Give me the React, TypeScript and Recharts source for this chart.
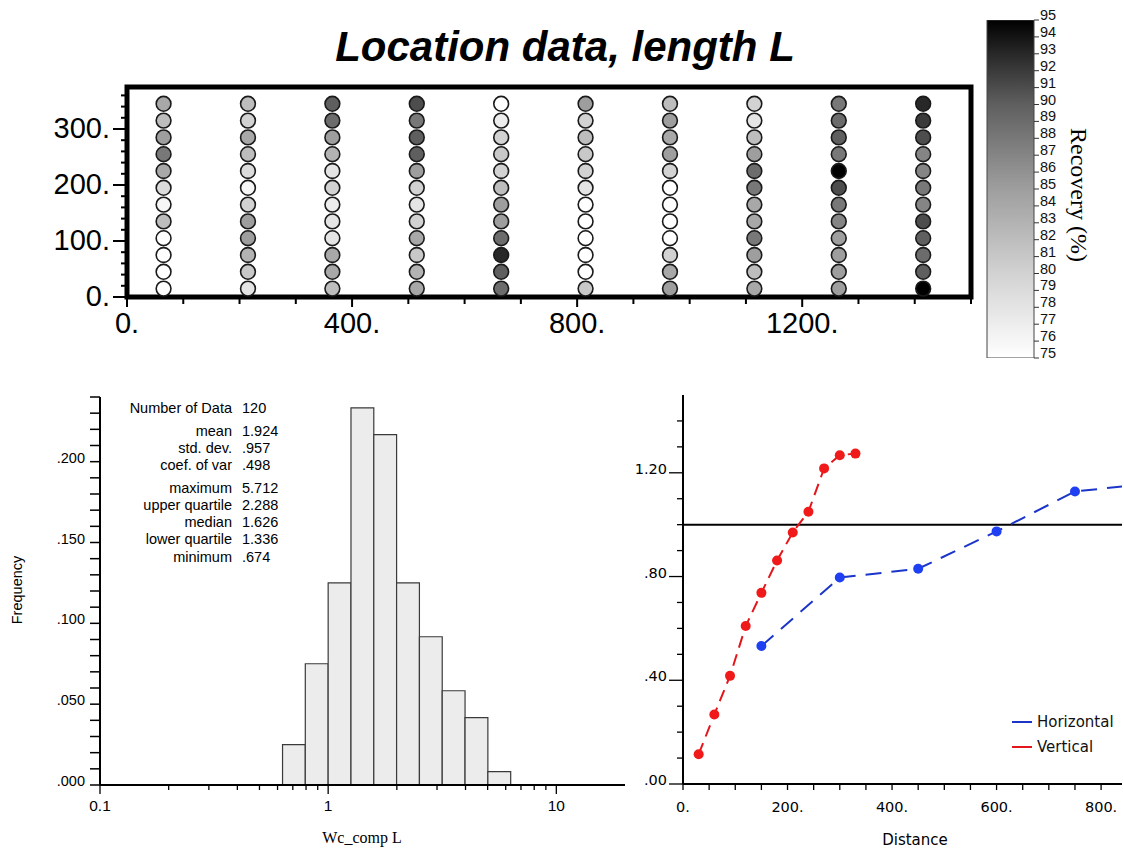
import React from "react";
import {
  ScatterChart,
  Scatter,
  XAxis,
  YAxis,
  ReferenceArea,
  BarChart,
  Bar,
  ComposedChart,
  LineChart,
  Line,
  ReferenceLine,
  Legend,
} from "recharts";

const SANS = "'Liberation Sans', Arial, Helvetica, sans-serif";
const SERIF = "'Liberation Serif', 'Times New Roman', serif";
const VERD = "'DejaVu Sans', Verdana, sans-serif";

// ---- location map: sample columns, rows (top first) and recovery % per column ----
const colX = [65, 215, 365, 515, 665, 815, 965, 1115, 1265, 1415];
const rowY = [345, 315, 285, 255, 225, 195, 165, 135, 105, 75, 45, 15];
const recovery = [
  [84, 82, 85, 88, 84, 79, 76, 82, 75, 75, 75, 75],
  [82, 80, 84, 82, 79, 76, 80, 85, 85, 83, 81, 78],
  [90, 89, 85, 83, 78, 80, 77, 78, 78, 84, 84, 82],
  [91, 88, 90, 90, 85, 80, 78, 80, 84, 81, 83, 84],
  [75, 77, 80, 81, 80, 82, 85, 85, 89, 93, 90, 89],
  [85, 80, 82, 81, 80, 78, 75, 75, 75, 75, 75, 81],
  [82, 85, 84, 85, 80, 75, 75, 75, 75, 80, 84, 85],
  [80, 78, 82, 85, 89, 88, 84, 84, 88, 85, 82, 84],
  [88, 89, 90, 88, 95, 91, 88, 87, 85, 85, 85, 85],
  [93, 92, 91, 87, 87, 88, 87, 91, 90, 89, 90, 95],
];
const mapXTicks = [0, 100, 200, 300, 400, 500, 600, 700, 800, 900, 1000, 1100, 1200, 1300, 1400, 1500];
const mapXLabels = [0, 400, 800, 1200];
const mapYTicks = [0, 20, 40, 60, 80, 100, 120, 140, 160, 180, 200, 220, 240, 260, 280, 300, 320, 340, 360];
const mapYLabels = [0, 100, 200, 300];

// ---- grey colour scale ----
const scaleTicks = [75, 76, 77, 78, 79, 80, 81, 82, 83, 84, 85, 86, 87, 88, 89, 90, 91, 92, 93, 94, 95];
const grayStopValue = [75, 80, 85, 90, 93, 95];
const grayStopLevel = [255, 210, 158, 95, 40, 0];

// ---- histogram ----
const binEdges = [0.631, 0.794, 1, 1.259, 1.585, 1.995, 2.512, 3.162, 3.981, 5.012, 6.31];
const binFreq = [0.025, 0.075, 0.125, 0.2333, 0.2167, 0.125, 0.0917, 0.0583, 0.0417, 0.0083];
const histXTicks = [0.1, 0.2, 0.3, 0.4, 0.5, 0.6, 0.7, 0.8, 0.9, 1, 2, 3, 4, 5, 6, 7, 8, 9, 10];
const histXLabels = [0.1, 1, 10];
const histYTicks = [0, 0.01, 0.02, 0.03, 0.04, 0.05, 0.06, 0.07, 0.08, 0.09, 0.1, 0.11, 0.12, 0.13, 0.14, 0.15, 0.16, 0.17, 0.18, 0.19, 0.2, 0.21, 0.22, 0.23, 0.24];
const histYLabels = [0, 0.05, 0.1, 0.15, 0.2];
const statLabels = ["Number of Data", "mean", "std. dev.", "coef. of var", "maximum", "upper quartile", "median", "lower quartile", "minimum"];
const statValues = ["120", "1.924", ".957", ".498", "5.712", "2.288", "1.626", "1.336", ".674"];
const statRowY = [413, 436, 453, 470, 493, 510, 527, 544, 562];

// ---- variogram ----
const vertLag = [30, 60, 90, 120, 150, 180, 210, 240, 270, 300, 330];
const vertGamma = [0.115, 0.268, 0.417, 0.609, 0.737, 0.862, 0.97, 1.05, 1.217, 1.268, 1.274];
const horLag = [150, 300, 450, 600, 750, 900];
const horGamma = [0.532, 0.796, 0.83, 0.974, 1.128, 1.16];
const varXTicks = [0, 50, 100, 150, 200, 250, 300, 350, 400, 450, 500, 550, 600, 650, 700, 750, 800];
const varXLabels = [0, 200, 400, 600, 800];
const varYTicks = [0, 0.1, 0.2, 0.3, 0.4, 0.5, 0.6, 0.7, 0.8, 0.9, 1, 1.1, 1.2, 1.3, 1.4];
const varYLabels = [0, 0.4, 0.8, 1.2];

const isIn = (list: number[], v: number) => list.some((l) => Math.abs(l - v) < 1e-9);

function grayFor(v: number) {
  for (let i = 1; i < grayStopValue.length; i++) {
    if (v <= grayStopValue[i]) {
      const t = (v - grayStopValue[i - 1]) / (grayStopValue[i] - grayStopValue[i - 1]);
      const g = Math.round(grayStopLevel[i - 1] + t * (grayStopLevel[i] - grayStopLevel[i - 1]));
      return `rgb(${g},${g},${g})`;
    }
  }
  return "rgb(0,0,0)";
}

const mapPoints = colX.flatMap((x, c) => rowY.map((y, r) => ({ x, y, rec: recovery[c][r] })));
const bins = binFreq.map((f, i) => ({ lo: binEdges[i], hi: binEdges[i + 1], freq: f }));
const vertPoints = vertLag.map((lag, i) => ({ lag, gamma: vertGamma[i] }));
const horPoints = horLag.map((lag, i) => ({ lag, gamma: horGamma[i] }));

// ---- tick renderers ----
const MapXTick = ({ x, y, payload }: any) => {
  const major = isIn(mapXLabels, payload.value);
  return (
    <g>
      <line x1={x} x2={x} y1={y} y2={y + (major ? 10 : 7)} stroke="#000" strokeWidth={2} />
      {major && (
        <text x={x} y={y + 36} textAnchor="middle" fontSize={29} fontFamily={SANS} fill="#000">
          {`${payload.value}.`}
        </text>
      )}
    </g>
  );
};

const MapYTick = ({ x, y, payload }: any) => {
  const major = isIn(mapYLabels, payload.value);
  return (
    <g>
      <line x1={x - (major ? 14 : 6)} x2={x} y1={y} y2={y} stroke="#000" strokeWidth={2} />
      {major && (
        <text x={x - 17} y={y + 9} textAnchor="end" fontSize={29} fontFamily={SANS} fill="#000">
          {`${payload.value}.`}
        </text>
      )}
    </g>
  );
};

const ScaleTick = ({ x, y, payload }: any) => (
  <g>
    <line x1={x} x2={x + 5} y1={y} y2={y} stroke="#333" strokeWidth={1} />
    <text x={x + 6} y={y} textAnchor="start" fontSize={14.5} fontFamily={SANS} fill="#111">
      {payload.value}
    </text>
  </g>
);

const HistXTick = ({ x, y, payload }: any) => {
  const major = isIn(histXLabels, payload.value);
  return (
    <g>
      <line x1={x} x2={x} y1={y} y2={y + (major ? 9 : 5)} stroke="#000" strokeWidth={1.3} />
      {major && (
        <text x={x} y={y + 26} textAnchor="middle" fontSize={15.5} fontFamily={SANS} fill="#000">
          {String(payload.value)}
        </text>
      )}
    </g>
  );
};

const HistYTick = ({ x, y, payload }: any) => {
  const major = isIn(histYLabels, payload.value);
  return (
    <g>
      <line x1={x - 10} x2={x} y1={y} y2={y} stroke="#000" strokeWidth={1.5} />
      {major && (
        <text x={x - 15} y={y + 1} textAnchor="end" fontSize={14.5} fontFamily={SANS} fill="#000">
          {payload.value.toFixed(3).replace(/^0/, "")}
        </text>
      )}
    </g>
  );
};

const VarXTick = ({ x, y, payload }: any) => (
  <g>
    <line x1={x} x2={x} y1={y} y2={y + 6} stroke="#000" strokeWidth={1.3} />
    {isIn(varXLabels, payload.value) && (
      <text x={x} y={y + 28} textAnchor="middle" fontSize={14.5} fontFamily={VERD} fill="#000">
        {`${payload.value}.`}
      </text>
    )}
  </g>
);

const VarYTick = ({ x, y, payload }: any) => {
  const major = isIn(varYLabels, payload.value);
  return (
    <g>
      <line x1={x - (major ? 14 : 6)} x2={x} y1={y} y2={y} stroke="#000" strokeWidth={1.3} />
      {major && (
        <text x={x - 16} y={y + 1} textAnchor="end" fontSize={14.5} fontFamily={VERD} fill="#000">
          {payload.value.toFixed(2).replace(/^0/, "")}
        </text>
      )}
    </g>
  );
};

const MapDot = ({ cx, cy, payload }: any) => (
  <circle cx={cx} cy={cy} r={7.4} fill={grayFor(payload.rec)} stroke="#1a1a1a" strokeWidth={1.6} />
);

const VarioLegend = ({ payload }: any) => (
  <div style={{ fontFamily: VERD, fontSize: 15, color: "#111" }}>
    {(payload || []).map((item: any) => (
      <div key={item.value} style={{ display: "flex", alignItems: "center", height: 24.5 }}>
        <span style={{ display: "inline-block", width: 20, height: 2, background: item.color, marginRight: 5 }} />
        <span>{item.value}</span>
      </div>
    ))}
  </div>
);

export default function App() {
  const axisLine = { stroke: "#000", strokeWidth: 2 };
  return (
    <div style={{ position: "absolute", left: 0, top: 0, width: 1124, height: 852, background: "#fff", overflow: "hidden" }}>
      <svg width={0} height={0} style={{ position: "absolute" }}>
        <defs>
          <linearGradient id="recoveryGrad" x1="0" y1="0" x2="0" y2="1">
            {grayStopValue
              .slice()
              .reverse()
              .map((v) => (
                <stop key={v} offset={`${((95 - v) / 20) * 100}%`} stopColor={grayFor(v)} />
              ))}
          </linearGradient>
        </defs>
      </svg>

      {/* location map */}
      <div style={{ position: "absolute", left: 0, top: 0 }}>
        <ScatterChart width={1124} height={340} margin={{ top: 87, right: 153, bottom: 3, left: 67 }}>
          <XAxis
            type="number"
            dataKey="x"
            domain={[0, 1500]}
            ticks={mapXTicks}
            interval={0}
            height={40}
            axisLine={false}
            tickLine={false}
            tickSize={0}
            tickMargin={0}
            tick={MapXTick}
            allowDataOverflow
          />
          <YAxis
            type="number"
            dataKey="y"
            domain={[0, 375]}
            ticks={mapYTicks}
            interval={0}
            width={60}
            axisLine={false}
            tickLine={false}
            tickSize={0}
            tickMargin={0}
            tick={MapYTick}
            allowDataOverflow
          />
          <ReferenceArea x1={0} x2={1500} y1={0} y2={375} fill="none" stroke="#000" strokeWidth={5} />
          <Scatter data={mapPoints} isAnimationActive={false} shape={MapDot} />
        </ScatterChart>
      </div>

      {/* colour scale */}
      <div style={{ position: "absolute", left: 960, top: 0 }}>
        <BarChart
          width={160}
          height={380}
          data={[{ name: "Recovery", range: [75, 95] }]}
          margin={{ top: 20, right: 0, bottom: 22, left: 27 }}
          barCategoryGap={0}
        >
          <XAxis dataKey="name" hide />
          <YAxis
            orientation="right"
            type="number"
            domain={[75, 95]}
            ticks={scaleTicks}
            interval={0}
            width={86}
            axisLine={false}
            tickLine={false}
            tickSize={0}
            tickMargin={0}
            tick={ScaleTick}
            allowDataOverflow
          />
          <Bar dataKey="range" fill="url(#recoveryGrad)" stroke="#444" strokeWidth={1} isAnimationActive={false} />
        </BarChart>
      </div>

      {/* histogram */}
      <div style={{ position: "absolute", left: 0, top: 380 }}>
        <ComposedChart width={640} height={472} data={bins} margin={{ top: 17, right: 15, bottom: 17, left: 40 }}>
          <XAxis
            type="number"
            dataKey="lo"
            scale="log"
            domain={[0.1, 20]}
            ticks={histXTicks}
            interval={0}
            height={50}
            axisLine={axisLine}
            tickLine={false}
            tickSize={0}
            tickMargin={0}
            tick={HistXTick}
            allowDataOverflow
          />
          <YAxis
            type="number"
            domain={[0, 0.24]}
            ticks={histYTicks}
            interval={0}
            width={60}
            axisLine={axisLine}
            tickLine={false}
            tickSize={0}
            tickMargin={0}
            tick={HistYTick}
            allowDataOverflow
          />
          {bins.map((b) => (
            <ReferenceArea
              key={b.lo}
              x1={b.lo}
              x2={b.hi}
              y1={0}
              y2={b.freq}
              fill="#ececec"
              fillOpacity={1}
              stroke="#3a3a3a"
              strokeWidth={1.2}
            />
          ))}
        </ComposedChart>
      </div>

      {/* variogram */}
      <div style={{ position: "absolute", left: 620, top: 380 }}>
        <LineChart width={504} height={472} margin={{ top: 15, right: 2, bottom: 18, left: 3 }}>
          <XAxis
            type="number"
            dataKey="lag"
            domain={[0, 840]}
            ticks={varXTicks}
            interval={0}
            height={50}
            axisLine={axisLine}
            tickLine={false}
            tickSize={0}
            tickMargin={0}
            tick={VarXTick}
            allowDataOverflow
          />
          <YAxis
            type="number"
            domain={[0, 1.5]}
            ticks={varYTicks}
            interval={0}
            width={60}
            axisLine={axisLine}
            tickLine={false}
            tickSize={0}
            tickMargin={0}
            tick={VarYTick}
            allowDataOverflow
          />
          <ReferenceLine y={1} stroke="#000" strokeWidth={2} />
          <Line
            data={horPoints}
            dataKey="gamma"
            name="Horizontal"
            stroke="#1b35c9"
            strokeWidth={2}
            strokeDasharray="16 10"
            dot={(p: any) => <circle key={`h${p.index}`} cx={p.cx} cy={p.cy} r={5} fill="#1f40f2" />}
            isAnimationActive={false}
          />
          <Line
            data={vertPoints}
            dataKey="gamma"
            name="Vertical"
            stroke="#e3161c"
            strokeWidth={2}
            strokeDasharray="12 7"
            dot={(p: any) => <circle key={`v${p.index}`} cx={p.cx} cy={p.cy} r={5} fill="#f01a1a" />}
            isAnimationActive={false}
          />
          <Legend
            layout="vertical"
            align="center"
            verticalAlign="middle"
            content={VarioLegend}
            wrapperStyle={{ left: 392, top: 330, width: 120 }}
          />
        </LineChart>
      </div>

      {/* titles and annotations */}
      <svg width={1124} height={852} style={{ position: "absolute", left: 0, top: 0, pointerEvents: "none" }}>
        <text x={565} y={61} textAnchor="middle" fontSize={42} fontWeight="bold" fontStyle="italic" fontFamily={SANS}>
          Location data, length L
        </text>
        <text x={1076} y={195} transform="rotate(90 1076 195)" textAnchor="middle" dominantBaseline="middle" fontSize={24} fontFamily={SERIF}>
          Recovery (%)
        </text>
        {statLabels.map((s, i) => (
          <text key={s} x={232} y={statRowY[i]} textAnchor="end" fontSize={14.5} fontFamily={SANS}>
            {s}
          </text>
        ))}
        {statValues.map((s, i) => (
          <text key={`v${i}`} x={242} y={statRowY[i]} textAnchor="start" fontSize={14.5} fontFamily={SANS}>
            {s}
          </text>
        ))}
        <text x={18} y={590} transform="rotate(-90 18 590)" textAnchor="middle" dominantBaseline="middle" fontSize={14.5} fontFamily={SANS}>
          Frequency
        </text>
        <text x={362} y={843} textAnchor="middle" fontSize={16} fontFamily={SERIF}>
          Wc_comp L
        </text>
        <text x={915} y={845} textAnchor="middle" fontSize={15} fontFamily={VERD}>
          Distance
        </text>
      </svg>
    </div>
  );
}
